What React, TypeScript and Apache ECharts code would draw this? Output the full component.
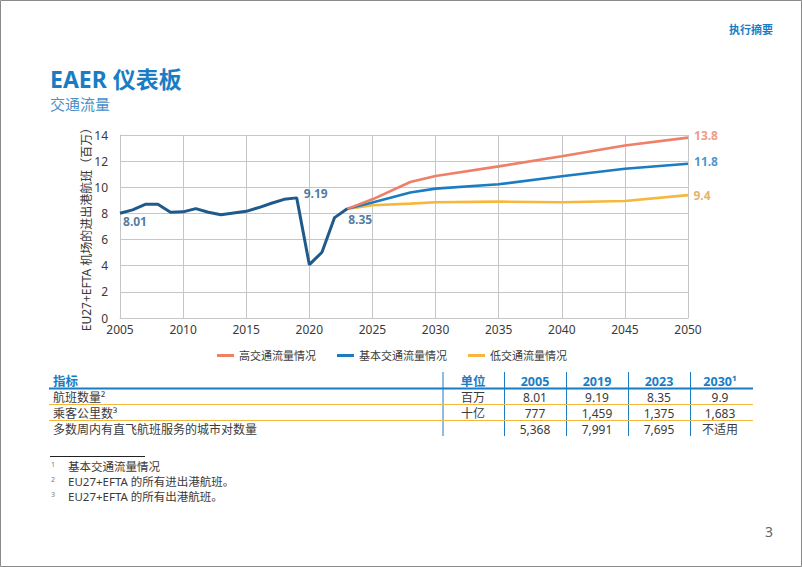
import React, { useEffect, useRef } from "react";
import * as echarts from "echarts";

const histYears = [2005, 2006, 2007, 2008, 2009, 2010, 2011, 2012, 2013, 2014, 2015, 2016, 2017, 2018, 2019, 2020, 2021, 2022, 2023];
const histValues = [8.01, 8.27, 8.7, 8.7, 8.09, 8.12, 8.37, 8.09, 7.9, 8.04, 8.16, 8.45, 8.78, 9.08, 9.19, 4.08, 5.03, 7.68, 8.35];
const projYears = [2023, 2025, 2028, 2030, 2035, 2040, 2045, 2050];
const highValues = [8.35, 9.08, 10.4, 10.87, 11.6, 12.37, 13.2, 13.8];
const baseValues = [8.35, 8.83, 9.6, 9.9, 10.23, 10.84, 11.42, 11.8];
const lowValues = [8.35, 8.63, 8.75, 8.85, 8.9, 8.85, 8.95, 9.4];
const seriesNames = ["高交通流量情况", "基本交通流量情况", "低交通流量情况"];
const tableHeader = ["指标", "单位", "2005", "2019", "2023", "2030¹"];
const tableRows = [
  ["航班数量²", "百万", "8.01", "9.19", "8.35", "9.9"],
  ["乘客公里数³", "十亿", "777", "1,459", "1,375", "1,683"],
  ["多数周内有直飞航班服务的城市对数量", "", "5,368", "7,991", "7,695", "不适用"],
];
const footnotes = ["基本交通流量情况", "EU27+EFTA 的所有进出港航班。", "EU27+EFTA 的所有出港航班。"];

const FONT = "'Noto Sans', 'Noto Sans CJK SC', sans-serif";
const C_HIST = "#1f5a8a";
const C_BASE = "#1b7cc2";
const C_HIGH = "#ef7f66";
const C_LOW = "#f6b73c";
const C_BLUE = "#1a7dc4";
const C_TEXT = "#3a3a3a";

export default function App() {
  const ref = useRef<HTMLDivElement>(null);
  useEffect(() => {
    if (!ref.current) return;
    const chart = echarts.init(ref.current, undefined, { renderer: "svg" });

    const pair = (xs: number[], ys: number[]) => xs.map((x, i) => [x, ys[i]]);
    const last = (a: number[]) => a[a.length - 1];

    const labelData = [
      { value: [histYears[0], histValues[0]], color: C_HIST, offset: [15, 8] },
      { value: [2019, histValues[histYears.indexOf(2019)]], color: C_HIST, offset: [19, -4] },
      { value: [last(histYears), last(histValues)], color: C_HIST, offset: [13, 11] },
      { value: [last(projYears), last(highValues)], color: C_HIGH, offset: [18, -2] },
      { value: [last(projYears), last(baseValues)], color: C_BASE, offset: [18, -2] },
      { value: [last(projYears), last(lowValues)], color: "#d9a046", offset: [14, 0] },
    ].map((d) => ({
      value: d.value,
      label: {
        show: true,
        position: "inside",
        offset: d.offset,
        color: d.color,
        fontWeight: "bold",
        fontSize: 12,
        fontFamily: FONT,
        formatter: () => String(d.value[1]),
      },
    }));

    const g: any[] = [];
    g.push({ type: "rect", shape: { x: 0.5, y: 0.5, width: 801, height: 566 }, style: { fill: "none", stroke: "#8a8a8a", lineWidth: 1 }, silent: true });
    g.push({ type: "text", left: 50, top: 67, style: { text: "EAER 仪表板", fill: C_BLUE, font: `bold 23px ${FONT}` } });
    g.push({ type: "text", left: 50, top: 96, style: { text: "交通流量", fill: "#4a90c8", font: `15px ${FONT}` } });
    g.push({ type: "text", left: 729, top: 24, style: { text: "执行摘要", fill: C_BLUE, font: `bold 11px ${FONT}` } });
    g.push({ type: "text", left: 765, top: 524, style: { text: "3", fill: "#666", font: `14px ${FONT}` } });

    const colCenters = [0, 473, 535, 597, 659, 720];
    const vLines = [443, 504.5, 566.5, 628.5, 690.5];
    const rowY = [381, 397.5, 413, 429];
    tableHeader.forEach((t, i) => {
      g.push({
        type: "text",
        x: i === 0 ? 53 : colCenters[i],
        y: rowY[0],
        style: { text: t, fill: C_BLUE, font: `bold 12.5px ${FONT}`, lineHeight: 14, align: i === 0 ? "left" : "center", verticalAlign: "middle" },
      });
    });
    tableRows.forEach((row, r) => {
      row.forEach((t, i) => {
        g.push({
          type: "text",
          x: i === 0 ? 53 : colCenters[i],
          y: rowY[r + 1],
          style: { text: t, fill: C_TEXT, font: `12px ${FONT}`, lineHeight: 14, align: i === 0 ? "left" : "center", verticalAlign: "middle" },
        });
      });
    });
    vLines.forEach((x) => {
      g.push({ type: "line", shape: { x1: x, y1: 372, x2: x, y2: 436 }, style: { stroke: C_BLUE, lineWidth: 1 } });
    });
    g.push({ type: "line", shape: { x1: 49, y1: 388.5, x2: 753, y2: 388.5 }, style: { stroke: C_BLUE, lineWidth: 2 } });
    g.push({ type: "line", shape: { x1: 49, y1: 404.5, x2: 753, y2: 404.5 }, style: { stroke: C_LOW, lineWidth: 1.2 } });
    g.push({ type: "line", shape: { x1: 49, y1: 420.5, x2: 753, y2: 420.5 }, style: { stroke: C_LOW, lineWidth: 1.2 } });

    g.push({ type: "line", shape: { x1: 50, y1: 456.5, x2: 145, y2: 456.5 }, style: { stroke: "#222", lineWidth: 1.2 } });
    footnotes.forEach((t, i) => {
      const y = 466 + i * 15;
      g.push({ type: "text", x: 51, y: y - 2, style: { text: String(i + 1), fill: "#777", font: `7px ${FONT}`, lineHeight: 8, verticalAlign: "middle" } });
      g.push({ type: "text", x: 68, y, style: { text: t, fill: C_TEXT, font: `11.5px ${FONT}`, lineHeight: 13, verticalAlign: "middle" } });
    });

    const lineSeries = (name: string, data: number[][], color: string, z: number, width = 2.6) => ({
      name,
      type: "line",
      data,
      showSymbol: false,
      symbol: "none",
      color,
      lineStyle: { color, width },
      z,
    });

    chart.setOption({
      animation: false,
      backgroundColor: "#fff",
      textStyle: { fontFamily: FONT },
      grid: { left: 120, right: 114, top: 135, bottom: 249, containLabel: false },
      legend: {
        data: seriesNames,
        left: 212,
        top: 345,
        itemWidth: 17,
        itemHeight: 3,
        itemGap: 21,
        icon: "rect",
        textStyle: { fontSize: 11, color: C_TEXT, fontFamily: FONT },
      },
      xAxis: {
        type: "value",
        min: 2005,
        max: 2050,
        interval: 5,
        axisLine: { show: true, lineStyle: { color: "#c6c6c6" } },
        axisTick: { show: false },
        splitLine: { show: true, lineStyle: { color: "#c6c6c6", width: 1 } },
        axisLabel: { color: C_TEXT, fontSize: 12, lineHeight: 12, margin: 5, fontFamily: FONT, formatter: (v: number) => String(v) },
      },
      yAxis: {
        type: "value",
        min: 0,
        max: 14,
        interval: 2,
        name: "EU27+EFTA 机场的进出港航班（百万）",
        nameLocation: "middle",
        nameGap: 28,
        nameMoveOverlap: false,
        nameRotate: 90,
        nameTextStyle: { color: C_TEXT, fontSize: 12, fontFamily: FONT },
        axisLine: { show: true, lineStyle: { color: "#c6c6c6" } },
        axisTick: { show: false },
        splitLine: { show: true, lineStyle: { color: "#c6c6c6", width: 1 } },
        axisLabel: { color: C_TEXT, fontSize: 12, lineHeight: 12, margin: 12, fontFamily: FONT },
      },
      series: [
        lineSeries(seriesNames[2], pair(projYears, lowValues), C_LOW, 2),
        lineSeries(seriesNames[1], pair(projYears, baseValues), C_BASE, 3),
        lineSeries(seriesNames[0], pair(projYears, highValues), C_HIGH, 4),
        lineSeries("历史", pair(histYears, histValues), C_HIST, 5, 3),
        {
          name: "labels",
          type: "scatter",
          symbolSize: 0,
          data: labelData,
          z: 6,
          silent: true,
        },
      ],
      graphic: g,
    });
    return () => chart.dispose();
  }, []);
  return <div ref={ref} style={{ position: "fixed", left: 0, top: 0, width: 802, height: 567 }} />;
}
